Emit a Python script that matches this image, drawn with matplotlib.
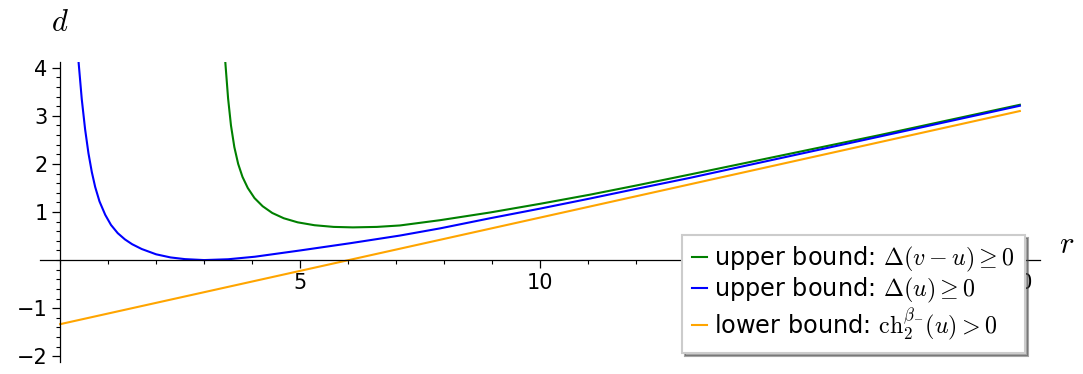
import matplotlib
matplotlib.use("Agg")
import matplotlib.pyplot as plt
from matplotlib.ticker import MultipleLocator, FixedLocator

plt.rcParams['mathtext.fontset'] = 'cm'
plt.rcParams['font.family'] = ['DejaVu Sans']

# ---- data ----
r_green = [3.44, 3.50, 3.56, 3.63, 3.71, 3.80, 3.91, 4.05, 4.22, 4.42, 4.66, 4.95,
           5.3, 5.7, 6.1, 6.6, 7.08, 7.92, 8.96, 10.0, 11.04, 12.0, 13.125, 17.08, 20.0]
d_green = [4.14, 3.36, 2.80, 2.35, 2.00, 1.73, 1.50, 1.29, 1.12, 0.98, 0.87, 0.785,
           0.725, 0.69, 0.68, 0.69, 0.72, 0.83, 0.99, 1.17, 1.36, 1.55, 1.78, 2.60, 3.23]

r_blue = [0.382, 0.45, 0.52, 0.59, 0.66, 0.73, 0.82, 0.94, 1.06, 1.2, 1.35, 1.5,
          1.7, 2.0, 2.3, 2.6, 3.0, 3.5, 4.06, 5.0, 6.04, 7.08, 7.92, 8.96,
          10.0, 11.04, 12.0, 13.125, 17.08, 20.0]
d_blue = [4.14, 3.35, 2.72, 2.22, 1.83, 1.52, 1.22, 0.94, 0.73, 0.56, 0.43, 0.33,
          0.23, 0.12, 0.055, 0.02, 0.0, 0.017, 0.07, 0.20, 0.35, 0.51, 0.66, 0.87,
          1.07, 1.28, 1.48, 1.71, 2.57, 3.21]

r_orange = [0.0, 20.0]
d_orange = [-1.333, 3.10]

labels = [r"upper bound: $\Delta(v - u) \geq 0$",
          r"upper bound: $\Delta(u) \geq 0$",
          r"lower bound: $\mathrm{ch}_2^{\beta_{-}}(u) > 0$"]
colors = ["#008000", "#0000ff", "#ffa500"]

x_major = [5, 10, 15, 20]
y_major = [-2, -1, 1, 2, 3, 4]

fig = plt.figure(figsize=(10.83, 3.74), dpi=100)
ax = fig.add_axes([40/1083, 12/374, 1000/1083, 300/374])

ax.plot(r_green, d_green, color=colors[0], lw=1.5, label=labels[0])
ax.plot(r_blue, d_blue, color=colors[1], lw=1.5, label=labels[1])
ax.plot(r_orange, d_orange, color=colors[2], lw=1.5, label=labels[2])

ax.set_xlim(-0.42, 20.42)
ax.set_ylim(-2.12, 4.12)

for s in ['top', 'right']:
    ax.spines[s].set_visible(False)
ax.spines['left'].set_position(('data', 0))
ax.spines['bottom'].set_position(('data', 0))
for s in ['left', 'bottom']:
    ax.spines[s].set_linewidth(0.9)

ax.xaxis.set_major_locator(FixedLocator(x_major))
ax.yaxis.set_major_locator(FixedLocator(y_major))
ax.xaxis.set_minor_locator(MultipleLocator(1))
ax.yaxis.set_minor_locator(MultipleLocator(0.2))
ax.tick_params(which='major', direction='out', length=6, width=0.9, labelsize=15, pad=3)
ax.tick_params(which='minor', direction='out', length=3.2, width=0.8)

ax.text(0, 4.94, r"$d$", fontsize=22, ha='center', va='center', clip_on=False)
ax.text(20.98, 0.33, r"$r$", fontsize=22, ha='center', va='center', clip_on=False)

leg = ax.legend(loc='upper left', bbox_to_anchor=(682/1083, 1 - 235/374),
                bbox_transform=fig.transFigure, fontsize=17.3, frameon=True,
                fancybox=False, shadow=True, handlelength=0.62, handletextpad=0.3,
                labelspacing=0.06, borderpad=0.42, borderaxespad=0)
leg.get_frame().set_edgecolor('#cccccc')
leg.get_frame().set_linewidth(1.5)

fig.savefig("out.png", dpi=100)
